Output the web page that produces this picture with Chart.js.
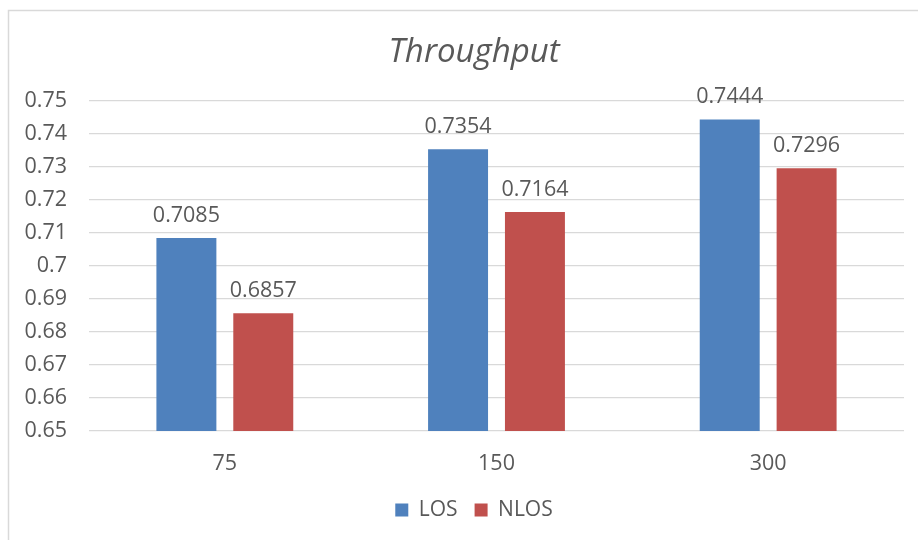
<!DOCTYPE html>
<html>
<head>
<meta charset="utf-8">
<script src="https://cdn.jsdelivr.net/npm/chart.js@4/dist/chart.umd.min.js"></script>
<style>
  html, body { margin: 0; padding: 0; background: #ffffff; }
  #wrap { position: relative; width: 918px; height: 540px; }
</style>
</head>
<body>
<div id="wrap"><canvas id="c" width="918" height="540"></canvas></div>
<script>
// Categories and series values
const categories = ['75', '150', '300'];
const losValues = [0.7085, 0.7354, 0.7444];
const nlosValues = [0.6857, 0.7164, 0.7296];
const seriesNames = ['LOS', 'NLOS'];

// Value axis range
const yMin = 0.65;
const yMax = 0.75;
const yStep = 0.01;

const textColor = '#595959';
const gridColor = '#d9d9d9';
const fontFamily = "'Open Sans', 'Noto Sans', sans-serif";

// Light frame around the whole chart
const framePlugin = {
  id: 'frame',
  beforeDraw(chart) {
    const ctx = chart.ctx;
    ctx.save();
    ctx.fillStyle = '#ffffff';
    ctx.fillRect(0, 0, chart.width, chart.height);
    ctx.strokeStyle = gridColor;
    ctx.lineWidth = 1.5;
    ctx.beginPath();
    ctx.moveTo(8.5, chart.height + 2);
    ctx.lineTo(8.5, 10.5);
    ctx.lineTo(chart.width + 2, 10.5);
    ctx.stroke();
    ctx.restore();
  }
};

// Value labels above each bar
const barLabelPlugin = {
  id: 'barLabels',
  afterDatasetsDraw(chart) {
    const ctx = chart.ctx;
    ctx.save();
    ctx.fillStyle = textColor;
    ctx.font = "21.5px " + fontFamily;
    ctx.textAlign = 'center';
    ctx.textBaseline = 'alphabetic';
    chart.data.datasets.forEach((ds, di) => {
      const meta = chart.getDatasetMeta(di);
      meta.data.forEach((bar, i) => {
        const v = ds.data[i];
        ctx.fillText(v.toFixed(4), bar.x, bar.y - 16);
      });
    });
    ctx.restore();
  }
};

new Chart(document.getElementById('c'), {
  type: 'bar',
  data: {
    labels: categories,
    datasets: [
      {
        label: seriesNames[0],
        data: losValues,
        backgroundColor: '#4f81bd',
        categoryPercentage: 0.566,
        barPercentage: 0.78
      },
      {
        label: seriesNames[1],
        data: nlosValues,
        backgroundColor: '#c0504d',
        categoryPercentage: 0.566,
        barPercentage: 0.78
      }
    ]
  },
  options: {
    responsive: false,
    animation: false,
    devicePixelRatio: 1,
    // the right side runs slightly past the canvas so title and legend sit a bit right of the centre
    layout: { padding: { top: 10, left: 24, right: -6, bottom: 9.5 } },
    plugins: {
      title: {
        display: true,
        text: 'Throughput',
        color: textColor,
        font: { family: fontFamily, size: 33, style: 'italic', weight: 'normal', lineHeight: 1.2 },
        padding: { top: 23, bottom: 28.4 }
      },
      legend: {
        display: true,
        position: 'bottom',
        labels: {
          color: textColor,
          font: { family: fontFamily, size: 21 },
          boxWidth: 13,
          boxHeight: 13,
          padding: 17
        }
      },
      tooltip: { enabled: false }
    },
    scales: {
      x: {
        grid: { display: false },
        border: { display: false },
        ticks: {
          color: textColor,
          font: { family: fontFamily, size: 21.5 },
          padding: 12
        },
        afterFit(scale) { scale.height = 51.5; }
      },
      y: {
        min: yMin,
        max: yMax,
        grid: { color: gridColor, lineWidth: 1.3, drawTicks: false },
        border: { display: false },
        ticks: {
          stepSize: yStep,
          color: textColor,
          font: { family: fontFamily, size: 21.5 },
          padding: 22,
          callback: (v) => String(parseFloat(Number(v).toFixed(2)))
        },
        afterFit(scale) { scale.width = 65; }
      },
      // empty spacer on the right edge of the plot
      yRight: {
        position: 'right',
        grid: { display: false },
        border: { display: false },
        ticks: { display: false },
        afterFit(scale) { scale.width = 20; }
      }
    }
  },
  plugins: [framePlugin, barLabelPlugin]
});
</script>
</body>
</html>
